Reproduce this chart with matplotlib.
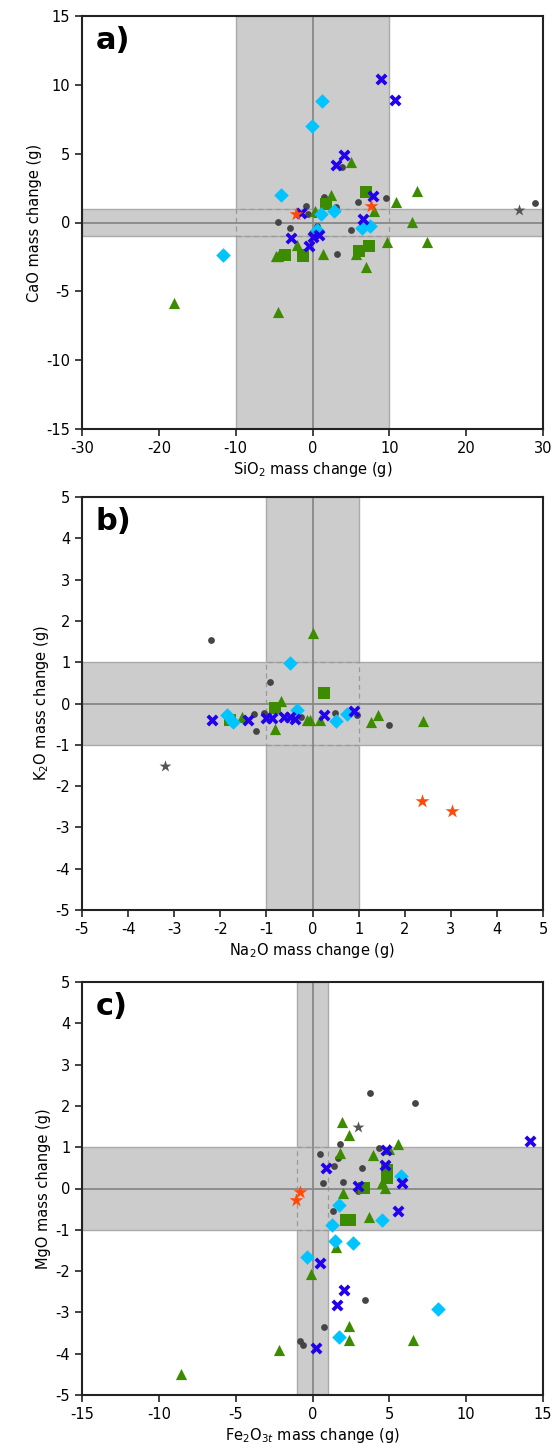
import matplotlib
matplotlib.use("Agg")
import matplotlib.pyplot as plt
from matplotlib.patches import Rectangle

plt.rcParams['font.family'] = ['DejaVu Sans']
plt.rcParams['axes.unicode_minus'] = False

# ---------------- Panel a: SiO2 vs CaO ----------------
a_circ_x = [29.0, 3.8, 1.5, 9.6, 5.9, -0.9, 3.1, -0.6, 0.3, -4.5, -2.9, 5.0, 0.6, -0.1, 3.15]
a_circ_y = [1.45, 4.0, 1.83, 1.76, 1.5, 1.23, 1.16, 0.65, 0.6, 0.02, -0.43, -0.53, -0.27, -0.75, -2.27]
a_tri_x = [5.0, 2.4, 13.6, 10.9, 8.0, 13.0, 9.7, 14.9, 0.3, -2.0, -4.45, 1.4, 6.9, -4.7, 5.7, -18.0, -4.5]
a_tri_y = [4.4, 2.0, 2.27, 1.5, 0.82, 0.02, -1.43, -1.43, 0.8, -1.67, -2.4, -2.27, -3.24, -2.4, -2.27, -5.85, -6.5]
a_sq_x = [6.9, 1.7, -3.6, -1.2, 6.0, 7.4, -1.3]
a_sq_y = [2.2, 1.35, -2.34, -2.34, -2.1, -1.7, -2.46]
a_dia_x = [1.2, -0.07, -4.1, 1.1, 2.8, 6.5, 7.5, 0.6, -11.6]
a_dia_y = [8.8, 7.0, 2.0, 0.63, 0.82, -0.41, -0.27, -0.58, -2.34]
a_x_x = [8.9, 10.7, 4.1, 3.0, 7.9, -1.5, 6.6, -2.8, 0.0, 0.9, -0.46]
a_x_y = [10.4, 8.9, 4.9, 4.2, 1.9, 0.67, 0.24, -1.1, -1.06, -0.94, -1.7]
a_ostar_x = [-2.1, 7.6]
a_ostar_y = [0.6, 1.18]
a_gstar_x = [26.9]
a_gstar_y = [0.92]

# ---------------- Panel b: Na2O vs K2O ----------------
b_circ_x = [-2.2, -0.92, -1.27, -1.23, -1.05, -0.26, 0.49, 0.96, 1.67]
b_circ_y = [1.54, 0.53, -0.26, -0.67, -0.24, -0.33, -0.24, -0.27, -0.53]
b_tri_x = [0.0, -0.69, -1.54, -0.81, -0.13, -0.05, 0.16, 1.26, 1.43, 2.39]
b_tri_y = [1.7, 0.07, -0.33, -0.61, -0.39, -0.39, -0.39, -0.45, -0.29, -0.43]
b_sq_x = [0.26, -0.81, -1.79]
b_sq_y = [0.26, -0.1, -0.41]
b_dia_x = [-0.49, -1.85, -1.72, -0.34, 0.52, 0.74]
b_dia_y = [0.99, -0.27, -0.45, -0.15, -0.43, -0.25]
b_x_x = [-2.17, -1.39, -1.0, -0.87, -0.62, -0.49, -0.38, 0.25, 0.9]
b_x_y = [-0.39, -0.41, -0.36, -0.36, -0.33, -0.33, -0.37, -0.29, -0.19]
b_ostar_x = [2.38, 3.03]
b_ostar_y = [-2.36, -2.6]
b_gstar_x = [-3.2]
b_gstar_y = [-1.51]

# ---------------- Panel c: Fe2O3t vs MgO ----------------
c_circ_x = [1.78, 4.32, 0.48, 1.63, 1.39, 3.23, 0.7, 1.96, 2.98, 1.31, 3.43, 0.72, -0.82, -0.65, 3.73, 6.66]
c_circ_y = [1.07, 0.99, 0.83, 0.73, 0.54, 0.49, 0.14, 0.16, -0.06, -0.55, -2.69, -3.36, -3.69, -3.78, 2.31, 2.06]
c_tri_x = [5.58, 5.0, 1.78, 3.95, 4.5, 4.71, 1.96, 3.67, 1.54, -0.1, 2.37, 2.39, 6.51, -2.2, -8.57, 1.93, 2.37]
c_tri_y = [1.07, 0.95, 0.85, 0.8, 0.14, 0.02, -0.12, -0.69, -1.41, -2.08, -3.34, -3.68, -3.68, -3.9, -4.5, 1.62, 1.29]
c_sq_x = [4.88, 4.82, 3.35, 2.15, 2.43]
c_sq_y = [0.46, 0.26, 0.02, -0.76, -0.76]
c_dia_x = [5.73, 1.72, 4.54, 1.26, 1.44, 2.63, -0.38, 8.16, 1.72]
c_dia_y = [0.3, -0.41, -0.76, -0.88, -1.26, -1.31, -1.67, -2.91, -3.59]
c_x_x = [4.78, 0.85, 4.71, 5.82, 2.98, 5.56, 0.5, 2.02, 1.57, 0.22, 14.15]
c_x_y = [0.93, 0.49, 0.56, 0.14, 0.06, -0.54, -1.8, -2.46, -2.82, -3.85, 1.14]
c_ostar_x = [-0.82, -1.08]
c_ostar_y = [-0.09, -0.28]
c_gstar_x = [2.97]
c_gstar_y = [1.5]

GREEN = '#3d8c00'
CYAN = '#00c4ff'
BLUE = '#2200ee'
ORANGE = '#ff4a0a'
DARK = '#454545'
GSTAR = '#555555'

fig = plt.figure(figsize=(5.55, 14.45), dpi=100)
left, width, height = 82/555, 461/555, 413/1445
bottoms = [1 - 429/1445, 1 - 910/1445, 1 - 1395/1445]


def panel(ax, xlim, ylim, xb, yb, xticks, yticks, xlabel, ylabel, letter, d):
    ax.set_xlim(*xlim)
    ax.set_ylim(*ylim)
    band_fc = '#cccccc'
    band_ec = '#aaaaaa'
    ax.axvspan(-xb, xb, facecolor=band_fc, edgecolor=band_ec, lw=1.0, zorder=0)
    ax.axhspan(-yb, yb, facecolor=band_fc, edgecolor=band_ec, lw=1.0, zorder=0)
    ax.add_patch(Rectangle((-xb, -yb), 2*xb, 2*yb, fill=False, ls=(0, (4, 3)),
                           edgecolor='#999999', lw=0.9, zorder=1))
    ax.axvline(0, color='#888888', lw=1.3, zorder=1)
    ax.axhline(0, color='#888888', lw=1.3, zorder=1)
    (cx, cy, tx, ty, sx, sy, dx, dy, xx, xy, ox, oy, gx, gy) = d
    ax.scatter(cx, cy, s=24, marker='o', color=DARK, zorder=3, lw=0)
    ax.scatter(sx, sy, s=80, marker='s', color=GREEN, zorder=4, lw=0)
    ax.scatter(tx, ty, s=65, marker='^', color=GREEN, zorder=4, lw=0)
    ax.scatter(dx, dy, s=55, marker='D', color=CYAN, zorder=5, lw=0)
    ax.scatter(xx, xy, s=45, marker='x', color=BLUE, zorder=6, lw=2.7)
    ax.scatter(ox, oy, s=110, marker='*', color=ORANGE, zorder=7, lw=0)
    ax.scatter(gx, gy, s=80, marker='*', color=GSTAR, zorder=7, lw=0)
    ax.set_xticks(xticks)
    ax.set_yticks(yticks)
    ax.tick_params(labelsize=10.5, length=5, width=1.2, color='#222222')
    for s in ax.spines.values():
        s.set_linewidth(1.5)
        s.set_color('#222222')
    ax.set_xlabel(xlabel, fontsize=10.5, labelpad=3)
    ax.set_ylabel(ylabel, fontsize=10.5, labelpad=3)
    ax.text(0.03, 0.975, letter, transform=ax.transAxes, fontsize=22,
            fontweight='bold', va='top', ha='left', zorder=10)


ax1 = fig.add_axes([left, bottoms[0], width, height])
panel(ax1, (-30, 30), (-15, 15), 10, 1, range(-30, 31, 10), range(-15, 16, 5),
      'SiO$_2$ mass change (g)', 'CaO mass change (g)', 'a)',
      (a_circ_x, a_circ_y, a_tri_x, a_tri_y, a_sq_x, a_sq_y, a_dia_x, a_dia_y,
       a_x_x, a_x_y, a_ostar_x, a_ostar_y, a_gstar_x, a_gstar_y))

ax2 = fig.add_axes([left, bottoms[1], width, height])
panel(ax2, (-5, 5), (-5, 5), 1, 1, range(-5, 6), range(-5, 6),
      'Na$_2$O mass change (g)', 'K$_2$O mass change (g)', 'b)',
      (b_circ_x, b_circ_y, b_tri_x, b_tri_y, b_sq_x, b_sq_y, b_dia_x, b_dia_y,
       b_x_x, b_x_y, b_ostar_x, b_ostar_y, b_gstar_x, b_gstar_y))

ax3 = fig.add_axes([left, bottoms[2], width, height])
panel(ax3, (-15, 15), (-5, 5), 1, 1, range(-15, 16, 5), range(-5, 6),
      'Fe$_2$O$_{3t}$ mass change (g)', 'MgO mass change (g)', 'c)',
      (c_circ_x, c_circ_y, c_tri_x, c_tri_y, c_sq_x, c_sq_y, c_dia_x, c_dia_y,
       c_x_x, c_x_y, c_ostar_x, c_ostar_y, c_gstar_x, c_gstar_y))

fig.savefig('out.png', dpi=100)
